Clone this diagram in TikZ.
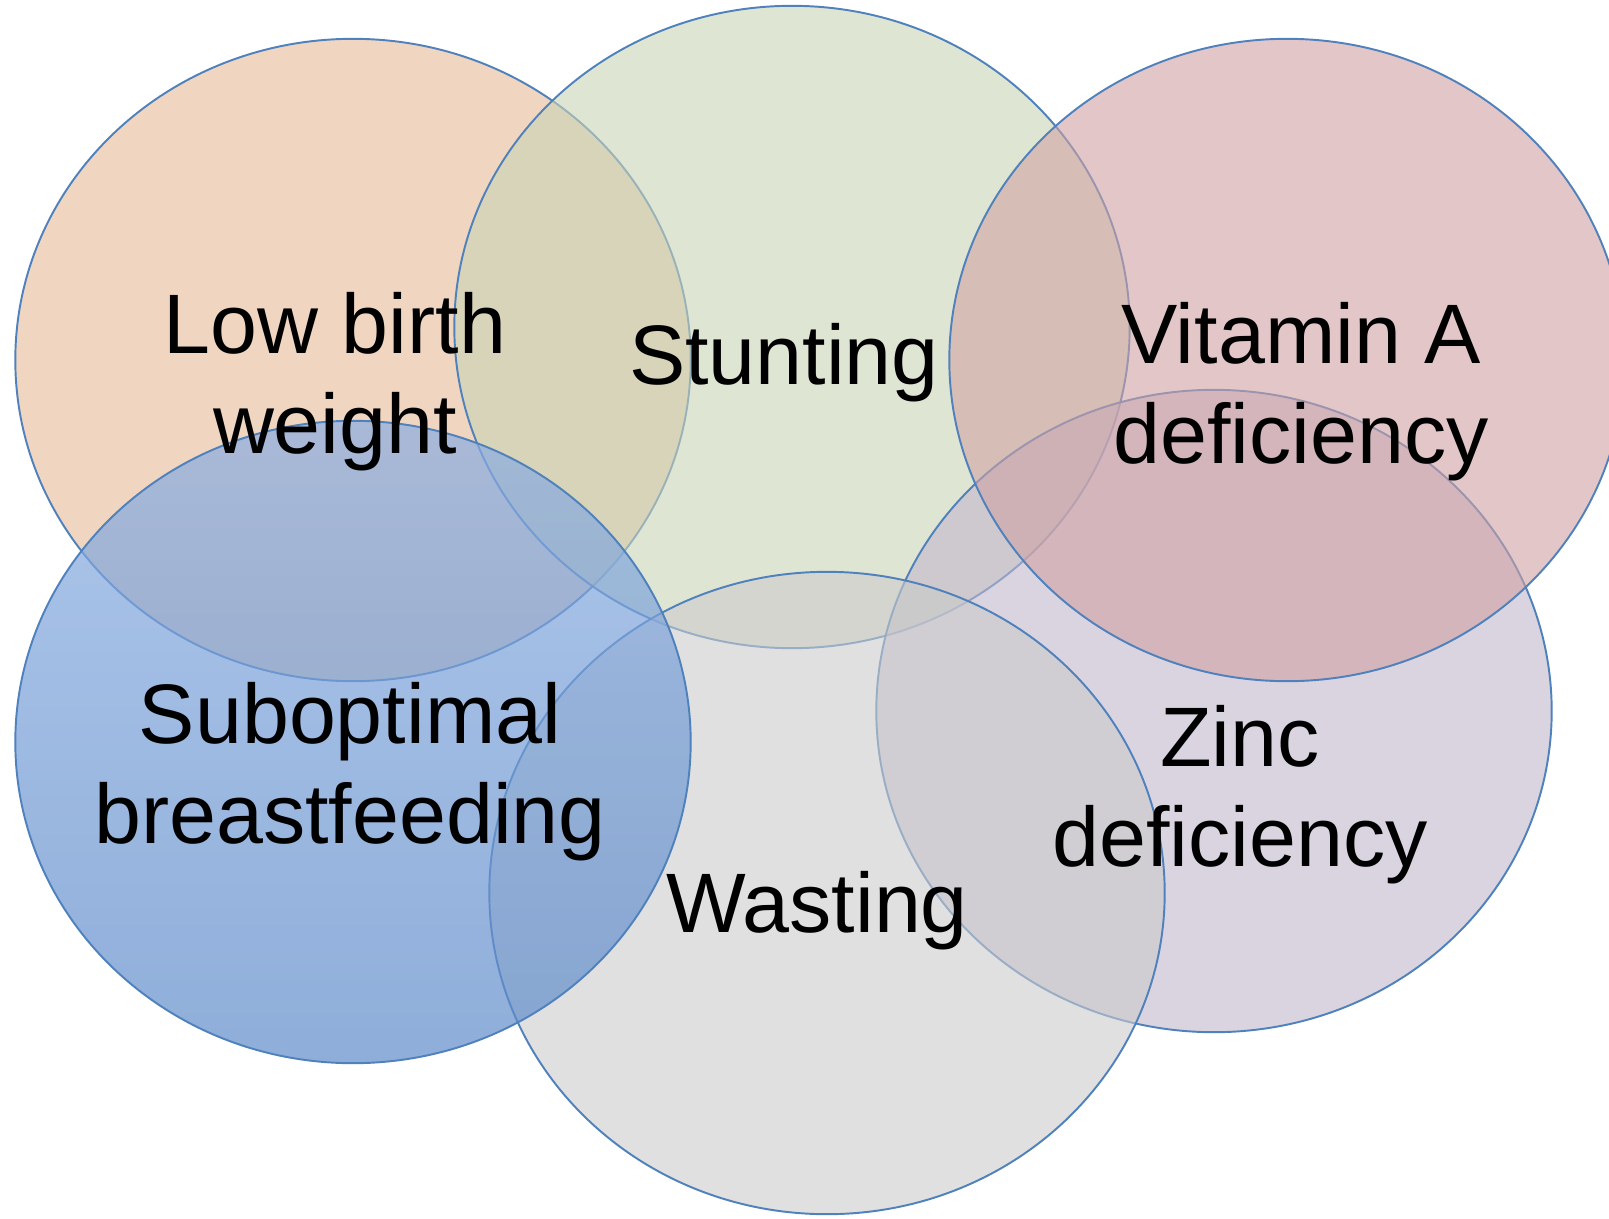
\documentclass[tikz,border=0pt]{standalone}
\usepackage{fontspec}
\setmainfont{Liberation Sans}
\usetikzlibrary{shapes.geometric}

% Fill colours of the six sets (drawn half transparent)
\definecolor{lbwfill}{RGB}{230,187,150}
\definecolor{stuntfill}{RGB}{202,212,182}
\definecolor{vitafill}{RGB}{208,162,163}
\definecolor{zincfill}{RGB}{193,183,203}
\definecolor{wastefill}{RGB}{203,203,203}
\definecolor{bftop}{RGB}{139,174,226}
\definecolor{bfbottom}{RGB}{94,139,201}
\definecolor{rim}{RGB}{79,129,189}

\begin{document}
\begin{tikzpicture}[x=0.01cm, y=-0.01cm,
    setshape/.style={ellipse, draw=rim, line width=0.55pt,
      minimum width=6.75cm, minimum height=6.42cm, inner sep=0pt,
      fill opacity=0.6, draw opacity=1},
    setlabel/.style={align=center, inner sep=0pt, text=black,
      font=\fontsize{24}{28.45}\selectfont}]
  \useasboundingbox (0,0) rectangle (1609,1218);

  % overlapping sets, back to front
  \node[setshape, fill=lbwfill]   (lbw)   at (353,360)  {};
  \node[setshape, fill=stuntfill] (stunt) at (792,327)  {};
  \node[setshape, fill=zincfill]  (zinc)  at (1214,711) {};
  \node[setshape, fill=vitafill]  (vita)  at (1287,360) {};
  \node[setshape, fill=wastefill] (waste) at (827,893)  {};
  \node[setshape, fill opacity=0.7, top color=bftop, bottom color=bfbottom]
    (bf) at (353,742) {};

  % set names
  \node[setlabel] (lbwtext)   at (335,382)  {Low birth\\weight};
  \node[setlabel] (stunttext) at (784,363)  {Stunting};
  \node[setlabel] (vitatext)  at (1301,392) {Vitamin A\\deficiency};
  \node[setlabel] (bftext)    at (350,772)  {Suboptimal\\breastfeeding};
  \node[setlabel] (zinctext)  at (1240,795) {Zinc\\deficiency};
  \node[setlabel] (wastetext) at (817,911)  {Wasting};
\end{tikzpicture}
\end{document}
